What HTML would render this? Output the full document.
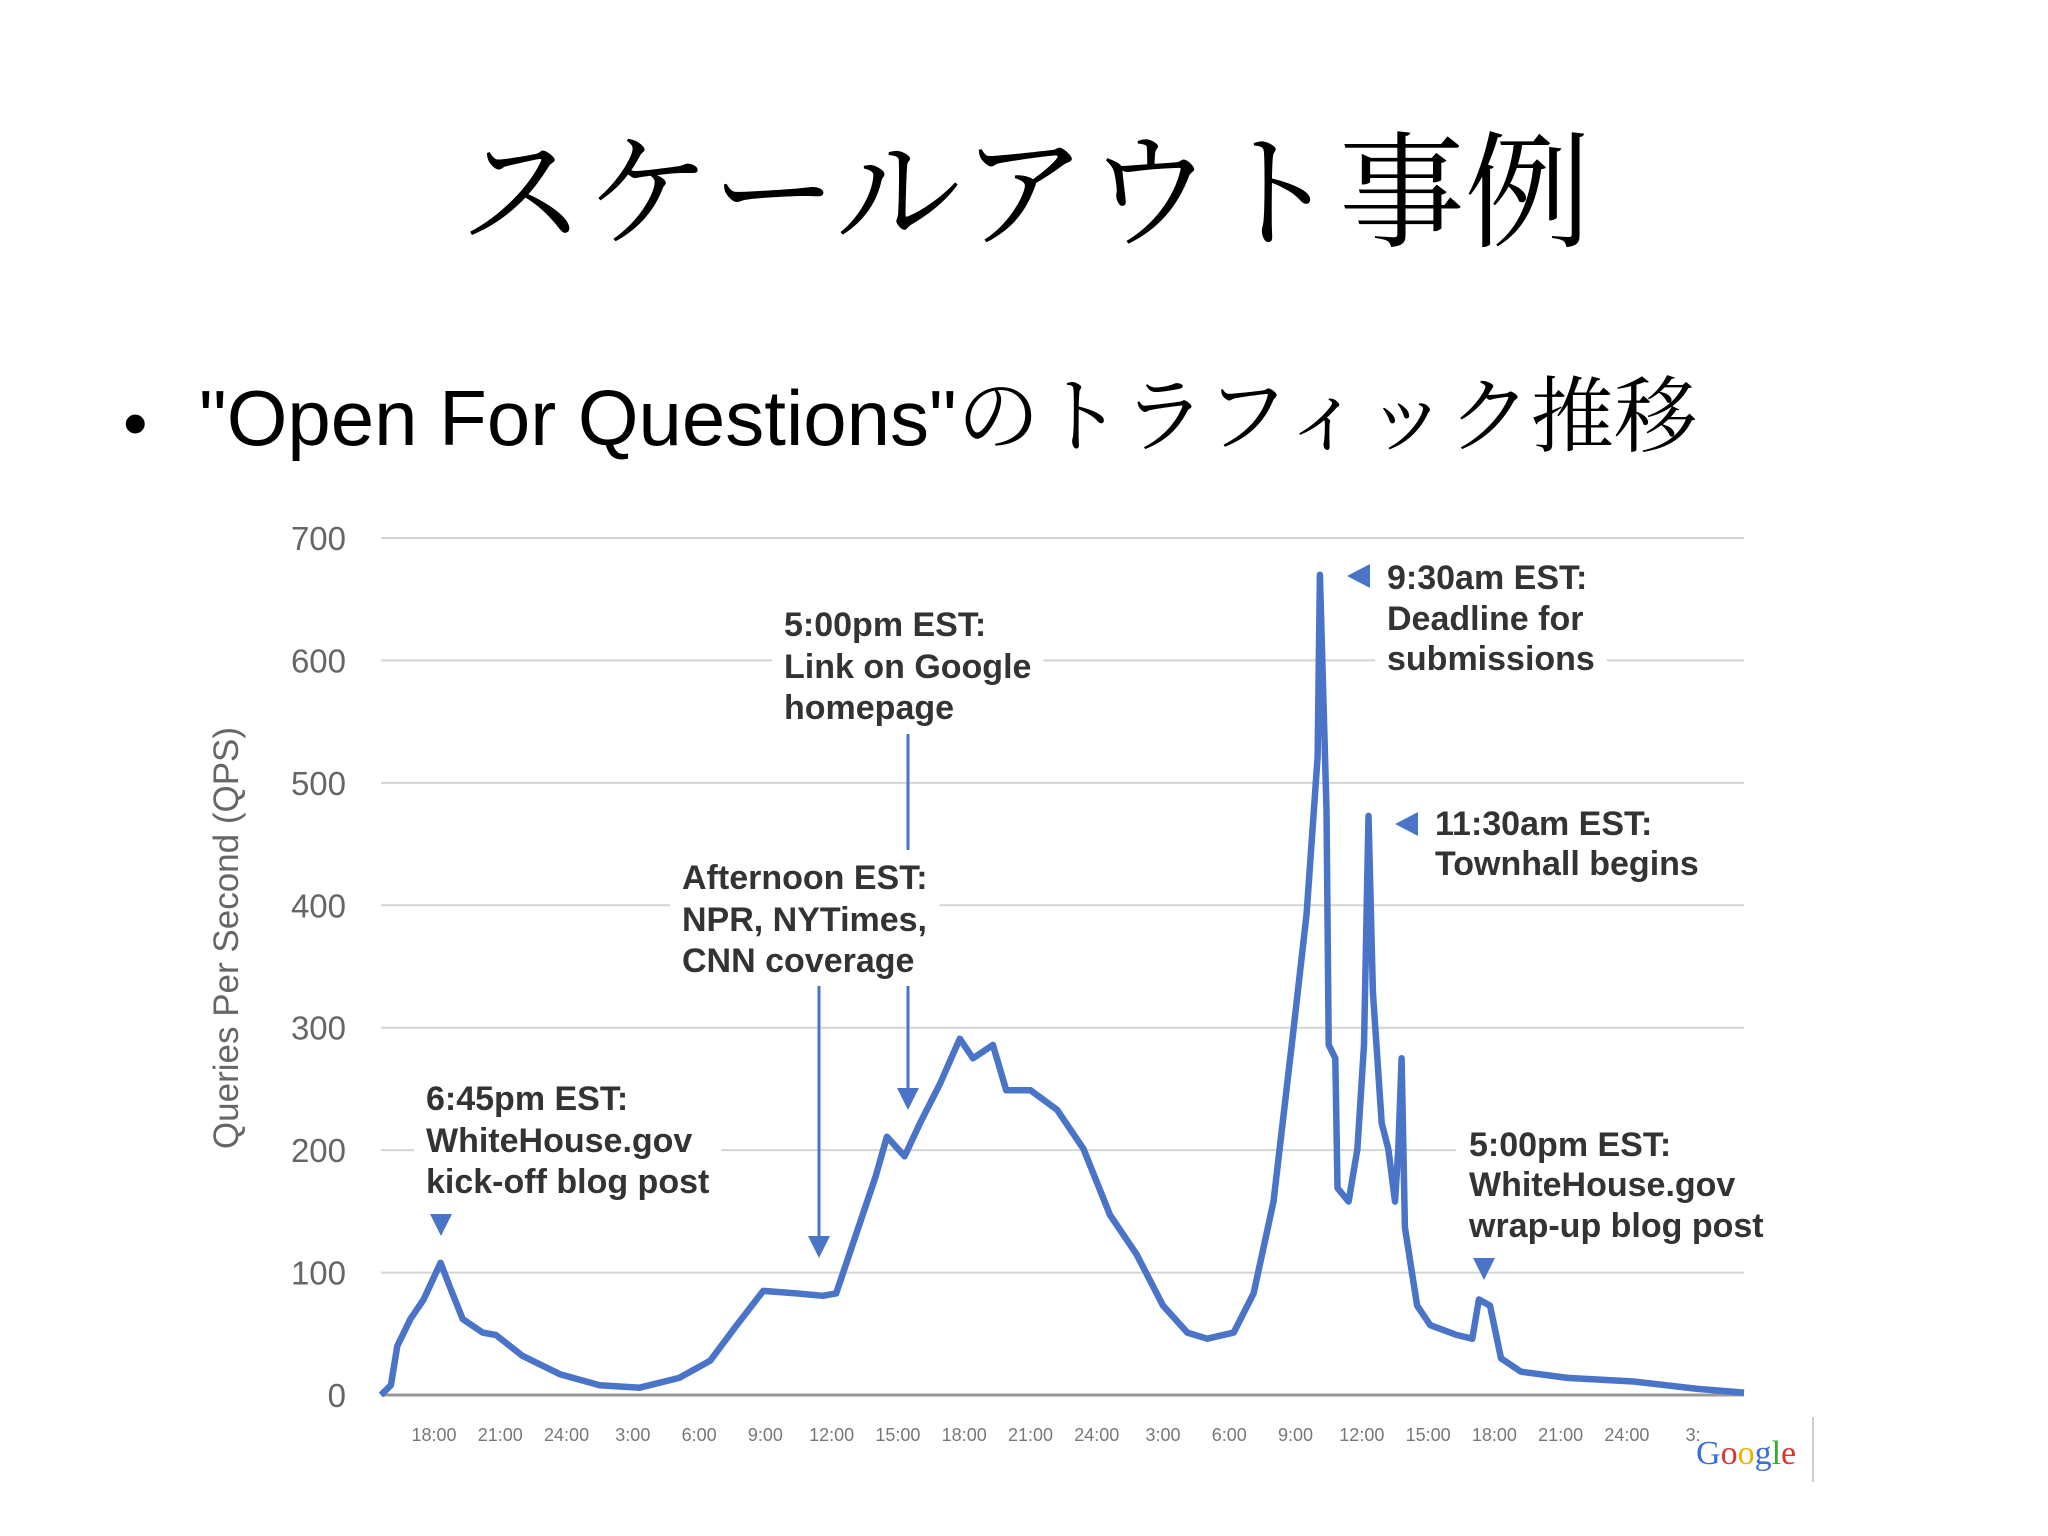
<!DOCTYPE html>
<html><head><meta charset="utf-8"><style>
html,body{margin:0;padding:0;background:#fff;width:2048px;height:1536px;overflow:hidden}
</style></head><body>
<svg width="2048" height="1536" xmlns="http://www.w3.org/2000/svg" id="chart">
<text x="1025" y="237" text-anchor="middle" font-family="'Liberation Serif','Noto Serif CJK SC',serif" font-size="126" fill="#000">スケールアウト事例</text>
<text x="123" y="447" font-family="'Liberation Sans',sans-serif" font-size="70" fill="#000">•</text>
<text x="199" y="445" font-family="'Liberation Sans','Noto Serif CJK JP',serif" font-size="83" fill="#000"><tspan font-family="'Liberation Sans',sans-serif" font-size="78">"Open For Questions"</tspan>のトラフィック推移</text>
<g id="grid"></g>
<g id="yticks"></g>
<g id="xticks"></g>
<text transform="translate(238,938) rotate(-90)" text-anchor="middle" font-family="'Liberation Sans',sans-serif" font-size="35" fill="#666">Queries Per Second (QPS)</text>
<path id="line" fill="none" stroke="#4a74c8" stroke-width="6.5" stroke-linejoin="round"/>
<g id="ann" font-family="'Liberation Sans',sans-serif" font-weight="bold" font-size="34" fill="#333"></g>
<g fill="#4a74c8" stroke="#4a74c8">
<polygon points="430,1214 452,1214 441,1236" stroke="none"/>
<line x1="819" y1="986" x2="819" y2="1240" stroke-width="3"/>
<polygon points="808,1236 830,1236 819,1258" stroke="none"/>
<line x1="908" y1="734" x2="908" y2="850" stroke-width="3"/>
<line x1="908" y1="986" x2="908" y2="1092" stroke-width="3"/>
<polygon points="897,1088 919,1088 908,1110" stroke="none"/>
<polygon points="1370,564 1370,588 1347,576" stroke="none"/>
<polygon points="1418,812 1418,836 1395,824" stroke="none"/>
<polygon points="1473,1258 1495,1258 1484,1280" stroke="none"/>
</g>
<line x1="1813" y1="1417" x2="1813" y2="1482" stroke="#ccc" stroke-width="2"/>
<text x="1696" y="1464" font-family="'Liberation Serif',serif" font-size="34" fill="#3b6fd6">G<tspan fill="#d33">o</tspan><tspan fill="#e8b400">o</tspan>g<tspan fill="#3a3">l</tspan><tspan fill="#d33">e</tspan></text>
</svg>
<script>
const yTicks=[0,100,200,300,400,500,600,700];
const xTickLabels=["18:00","21:00","24:00","3:00","6:00","9:00","12:00","15:00","18:00","21:00","24:00","3:00","6:00","9:00","12:00","15:00","18:00","21:00","24:00","3:"];
const xTickHours=[0,3,6,9,12,15,18,21,24,27,30,33,36,39,42,45,48,51,54,57];
const hours=[-2.4,-1.95,-1.66,-1.07,-0.47,0.3,0.7,1.3,2.2,2.8,4.0,5.7,7.5,9.3,11.1,12.5,13.7,14.9,16.4,17.6,18.2,19.1,20.0,20.5,21.3,22.0,22.9,23.8,24.4,25.3,25.9,27.0,28.2,29.4,30.6,31.8,33.0,34.1,35.0,36.2,37.1,38.0,38.9,39.5,40.0,40.1,40.4,40.5,40.8,40.9,41.4,41.8,42.1,42.3,42.5,42.9,43.2,43.5,43.65,43.8,43.95,44.5,45.1,46.3,47.0,47.3,47.8,48.3,49.2,51.3,54.3,57.2,59.3];
const qps=[0,8,40,62,78,108,89,62,51,49,32,17,8,6,14,28,57,85,83,81,83,131,179,211,195,222,254,291,275,286,249,249,233,201,147,115,73,51,46,51,83,158,297,393,521,670,478,286,275,169,158,201,286,473,329,222,201,158,201,275,137,73,57,49,46,78,73,30,19,14,11,5,2];
const X0=381,X1=1744,Y0=1395,Y1=538,H0=-2.4,H1=59.3,V1=700;
const xs=h=>X0+(h-H0)/(H1-H0)*(X1-X0);
const ys=v=>Y0-v/V1*(Y0-Y1);
const NS="http://www.w3.org/2000/svg";
const grid=document.getElementById('grid'),yt=document.getElementById('yticks'),xt=document.getElementById('xticks');
yTicks.forEach(v=>{
 const l=document.createElementNS(NS,'line');
 
 
 l.setAttribute('x1',X0);l.setAttribute('x2',X1);l.setAttribute('y1',ys(v));l.setAttribute('y2',ys(v));
 l.setAttribute('stroke',v===0?'#999':'#d4d4d4');l.setAttribute('stroke-width',v===0?3:2);
 grid.appendChild(l);
 const t=document.createElementNS(NS,'text');
 
 
 t.setAttribute('x',346);t.setAttribute('y',ys(v)+12);t.setAttribute('text-anchor','end');
 t.setAttribute('font-family',"'Liberation Sans',sans-serif");t.setAttribute('font-size','33');t.setAttribute('fill','#666');
 t.textContent=v;yt.appendChild(t);
});
xTickLabels.forEach((s,i)=>{
 const t=document.createElementNS(NS,'text');
 
 
 t.setAttribute('x',xs(xTickHours[i]));t.setAttribute('y',1441);t.setAttribute('text-anchor','middle');
 t.setAttribute('font-family',"'Liberation Sans',sans-serif");t.setAttribute('font-size','18');t.setAttribute('fill','#777');
 t.textContent=s;xt.appendChild(t);
});
document.getElementById('line').setAttribute('d',hours.map((h,i)=>(i?'L':'M')+xs(h).toFixed(1)+','+ys(qps[i]).toFixed(1)).join(''));
const anns=[
 ['annotation-kickoff',426,[1098,1140,1181],["6:45pm EST:","WhiteHouse.gov","kick-off blog post"]],
 ['annotation-afternoon',682,[877,919,960],["Afternoon EST:","NPR, NYTimes,","CNN coverage"]],
 ['annotation-google-link',784,[624,666,707],["5:00pm EST:","Link on Google","homepage"]],
 ['annotation-deadline',1387,[577,618,658],["9:30am EST:","Deadline for","submissions"]],
 ['annotation-townhall',1435,[823,863],["11:30am EST:","Townhall begins"]],
 ['annotation-wrapup',1469,[1144,1184,1225],["5:00pm EST:","WhiteHouse.gov","wrap-up blog post"]]
];
const ag=document.getElementById('ann');
anns.forEach(a=>{
 const g=document.createElementNS(NS,'g');
 
 
 ag.appendChild(g);
 const r=document.createElementNS(NS,'rect');g.appendChild(r);
 a[3].forEach((s,i)=>{
  const t=document.createElementNS(NS,'text');
  t.setAttribute('x',a[1]);t.setAttribute('y',a[2][i]+12);t.textContent=s;g.appendChild(t);
 });
 const b=g.getBBox();
 r.setAttribute('x',b.x-12);r.setAttribute('y',b.y-4);r.setAttribute('width',b.width+24);r.setAttribute('height',b.height+8);r.setAttribute('fill','#fff');
});
</script>
</body></html>
